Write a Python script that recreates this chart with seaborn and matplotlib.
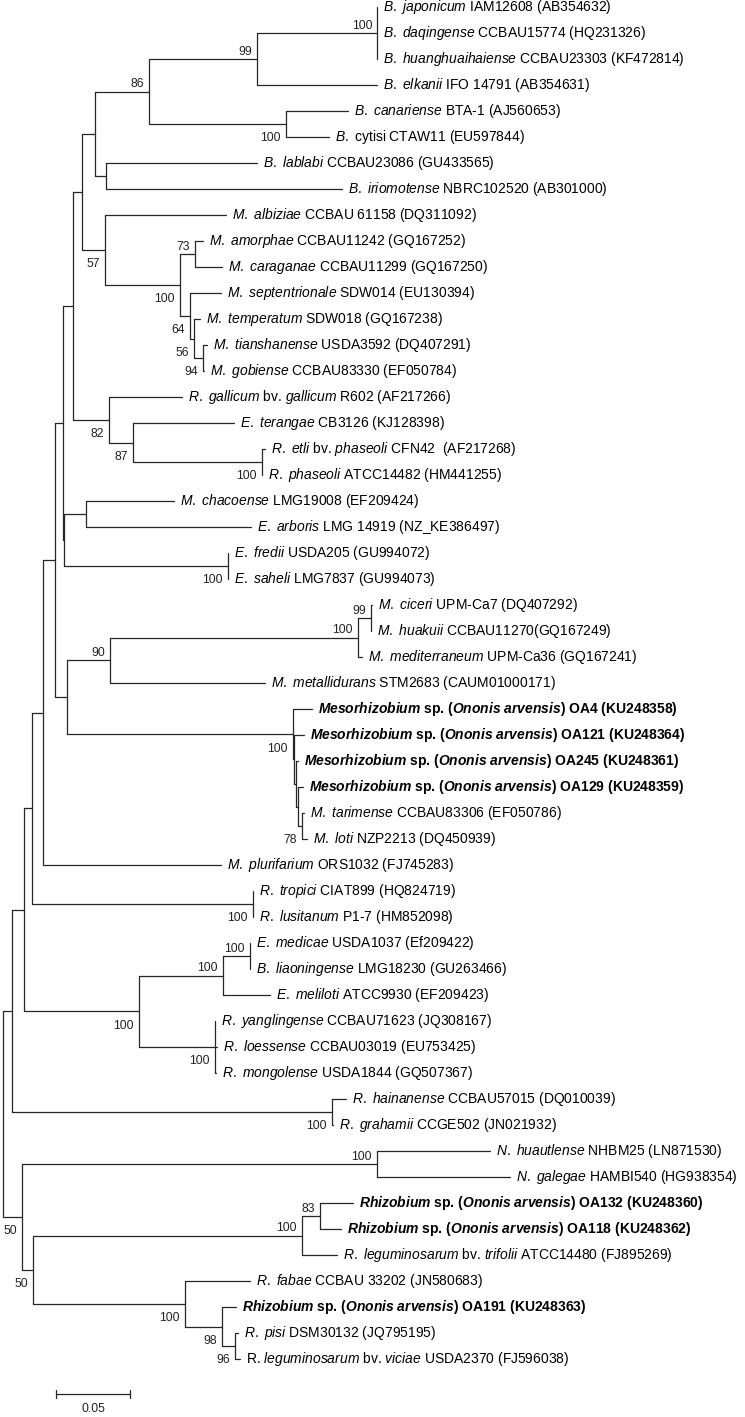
import pandas as pd
import seaborn as sns
import matplotlib.pyplot as plt

# leaf labels in tree order, *...* marks italic words
LABELS = [
    "*B. japonicum* IAM12608 (AB354632)",
    "*B. daqingense* CCBAU15774 (HQ231326)",
    "*B. huanghuaihaiense* CCBAU23303 (KF472814)",
    "*B. elkanii* IFO 14791 (AB354631)",
    "*B. canariense* BTA-1 (AJ560653)",
    "*B.* cytisi CTAW11 (EU597844)",
    "*B. lablabi* CCBAU23086 (GU433565)",
    "*B. iriomotense* NBRC102520 (AB301000)",
    "*M. albiziae* CCBAU 61158 (DQ311092)",
    "*M. amorphae* CCBAU11242 (GQ167252)",
    "*M. caraganae* CCBAU11299 (GQ167250)",
    "*M. septentrionale* SDW014 (EU130394)",
    "*M. temperatum* SDW018 (GQ167238)",
    "*M. tianshanense* USDA3592 (DQ407291)",
    "*M. gobiense* CCBAU83330 (EF050784)",
    "*R. gallicum* bv. *gallicum* R602 (AF217266)",
    "*E. terangae* CB3126 (KJ128398)",
    "*R. etli* bv. *phaseoli* CFN42  (AF217268)",
    "*R. phaseoli* ATCC14482 (HM441255)",
    "*M. chacoense* LMG19008 (EF209424)",
    "*E. arboris* LMG 14919 (NZ_KE386497)",
    "*E. fredii* USDA205 (GU994072)",
    "*E. saheli* LMG7837 (GU994073)",
    "*M. ciceri* UPM-Ca7 (DQ407292)",
    "*M. huakuii* CCBAU11270(GQ167249)",
    "*M. mediterraneum* UPM-Ca36 (GQ167241)",
    "*M. metallidurans* STM2683 (CAUM01000171)",
    "*Mesorhizobium* sp. (*Ononis arvensis*) OA4 (KU248358)",
    "*Mesorhizobium* sp. (*Ononis arvensis*) OA121 (KU248364)",
    "*Mesorhizobium* sp. (*Ononis arvensis*) OA245 (KU248361)",
    "*Mesorhizobium* sp. (*Ononis arvensis*) OA129 (KU248359)",
    "*M. tarimense* CCBAU83306 (EF050786)",
    "*M. loti* NZP2213 (DQ450939)",
    "*M. plurifarium* ORS1032 (FJ745283)",
    "*R. tropici* CIAT899 (HQ824719)",
    "*R. lusitanum* P1-7 (HM852098)",
    "*E. medicae* USDA1037 (Ef209422)",
    "*B. liaoningense* LMG18230 (GU263466)",
    "*E. meliloti* ATCC9930 (EF209423)",
    "*R. yanglingense* CCBAU71623 (JQ308167)",
    "*R. loessense* CCBAU03019 (EU753425)",
    "*R. mongolense* USDA1844 (GQ507367)",
    "*R. hainanense* CCBAU57015 (DQ010039)",
    "*R. grahamii* CCGE502 (JN021932)",
    "*N. huautlense* NHBM25 (LN871530)",
    "*N. galegae* HAMBI540 (HG938354)",
    "*Rhizobium* sp. (*Ononis arvensis*) OA132 (KU248360)",
    "*Rhizobium* sp. (*Ononis arvensis*) OA118 (KU248362)",
    "*R. leguminosarum* bv. *trifolii* ATCC14480 (FJ895269)",
    "*R. fabae* CCBAU 33202 (JN580683)",
    "*Rhizobium* sp. (*Ononis arvensis*) OA191 (KU248363)",
    "*R. pisi* DSM30132 (JQ795195)",
    "R. *leguminosarum* bv. *viciae* USDA2370 (FJ596038)",
]
# isolates from this study, drawn in bold
BOLD_LEAVES = [27, 28, 29, 30, 46, 47, 50]

# clades in newick, leaves are indices into LABELS,
# branch lengths in substitutions per site, bootstrap after ')'
BRADY = ("((((0:0,1:0,2:0)100:0.0811,3:0.0811)99:0.0730,"
         "(4:0.0419,5:0.0291)100:0.0926)86:0.0365,(6:0.1020,7:0.1595):0.0074)")
MESO1 = ("(8:0.0818,((9:0.0054,10:0.0182)73:0.0101,(11:0.0209,(12:0.0041,"
         "(13:0.0027,14:0.0007)94:0.0061)56:0.0027)64:0.0068)100:0.0507)57")
GALL = "(15:0.0493,(16:0.0682,(17:0.0020,18:0)100:0.0872)87:0.0162)82"
ENSI = "((19:0.0595,20:0.1115):0.0149,(21:0,22:0)100:0.1108)"
MESO2 = ("((((23:0.0007,24:0)99:0.0088,25:0.0027)100:0.1676,26:0.1047)90:0.0291,"
         "(27:0.0128,(28:0.0068,(29:0.0014,(30:0.0034,(31:0.0014,32:0.0034)78:0.0027)"
         ":0.0014):0.0014):0.0007)100:0.1527)")
TROP = "(34:0,35:0)100"
SINO = ("(((36:0,37:0)100:0.0182,38:0.0318)100:0.0568,"
        "(39:0,40:0.0014,41:0.0007)100:0.0514)100")
HAIN = "(42:0.0095,43:0.0007)100"
RHIZ = ("((44:0.0764,45:0.0899)100:0.2399,(((46:0.0223,47:0.0142)83:0.0122,"
        "48:0.0236)100:0.1818,(49:0.0439,(50:0.0095,(51:0.0020,52:0.0034)96:0.0088)98"
        ":0.0250)100:0.1027)50:0.0074)50")

TREE = (f"((((((((({BRADY}:0.0088,{MESO1}:0.0155):0.0061,{GALL}:0.0243):0.0068,"
        f"{ENSI}:0.0007):0.0054,{MESO2}:0.0081):0.0081,33:0.1203):0.0074,"
        f"{TROP}:0.1493):0.0054,{SINO}:0.0777):0.0081,{HAIN}:0.2162):0.0061,"
        f"{RHIZ}:0.0128);")

SCALE_LEN = 0.05

# page geometry (pixels)
W, H = 745, 1417
PX_PER_UNIT = 1480      # 0.05 substitutions = 74 px
X0_PX = 3
ROW0_PX, ROW_PX = 7, 26


def parse_newick(s):
    pos = 0

    def node():
        nonlocal pos
        children = []
        if s[pos] == '(':
            pos += 1
            while True:
                children.append(node())
                if s[pos] == ',':
                    pos += 1
                    continue
                pos += 1
                break
        start = pos
        while s[pos] not in ':,);':
            pos += 1
        name = s[start:pos]
        length = 0.0
        if s[pos] == ':':
            pos += 1
            start = pos
            while s[pos] not in ',);':
                pos += 1
            length = float(s[start:pos])
        return {'children': children, 'name': name, 'length': length}

    return node()


def layout(n, depth, leaves):
    n['x'] = depth + n['length']
    if n['children']:
        for c in n['children']:
            layout(c, n['x'], leaves)
        n['y'] = (n['children'][0]['y'] + n['children'][-1]['y']) / 2
    else:
        n['y'] = len(leaves)
        leaves.append(n)


def to_mathtext(label, bold):
    cmd = r'\mathbfit' if bold else r'\mathit'
    parts = label.split('*')
    out = []
    for k, p in enumerate(parts):
        if k % 2:
            out.append(' '.join(f'${cmd}{{{w}}}$' for w in p.split(' ')))
        else:
            out.append(p)
    return ''.join(out)


root = parse_newick(TREE)
leaves = []
layout(root, 0.0, leaves)

# collect the tree edges as line segments
rows = []
internals = []
seg = 0


def collect(n):
    global seg
    if not n['children']:
        return
    internals.append(n)
    kids = n['children']
    rows.append((seg, n['x'], kids[0]['y']))
    rows.append((seg, n['x'], kids[-1]['y']))
    seg += 1
    for k, c in enumerate(kids):
        c['upper'] = k == 0
        rows.append((seg, n['x'], c['y']))
        rows.append((seg, c['x'], c['y']))
        seg += 1
        collect(c)


collect(root)
edges = pd.DataFrame(rows, columns=['seg', 'x', 'y'])

sns.set_style('white')
plt.rcParams['font.family'] = ['Liberation Sans', 'DejaVu Sans']
plt.rcParams['mathtext.fontset'] = 'custom'
plt.rcParams['mathtext.rm'] = 'Liberation Sans'
plt.rcParams['mathtext.it'] = 'Liberation Sans:italic'
plt.rcParams['mathtext.bf'] = 'Liberation Sans:bold'
plt.rcParams['mathtext.bfit'] = 'Liberation Sans:bold:italic'

fig = plt.figure(figsize=(W / 100, H / 100), dpi=100)
ax = fig.add_axes([0, 0, 1, 1])

line_col = '#262626'
sns.lineplot(data=edges, x='x', y='y', units='seg', estimator=None, sort=False,
             color=line_col, linewidth=0.9, ax=ax, legend=False)

# leaf labels
for i, leaf in enumerate(leaves):
    idx = int(leaf['name'])
    bold = idx in BOLD_LEAVES
    ax.annotate(to_mathtext(LABELS[idx], bold), xy=(leaf['x'], leaf['y']),
                xytext=(4.4, 0), textcoords='offset points',
                ha='left', va='center', fontsize=10,
                fontweight='bold' if bold else 'normal', color='black')

# bootstrap values
for n in internals:
    if n is root or not n['name']:
        continue
    dy = 2.9 if n['upper'] else -6.0
    ax.annotate(n['name'], xy=(n['x'], n['y']), xytext=(-3.6, dy),
                textcoords='offset points', ha='right',
                va='baseline' if n['upper'] else 'top',
                fontsize=8.8, color='#222222')

# scale bar
sb_x0 = (56 - X0_PX) / PX_PER_UNIT
sb_y = (1394 - ROW0_PX) / ROW_PX
tick = 0.16
ax.plot([sb_x0, sb_x0 + SCALE_LEN], [sb_y, sb_y], color=line_col, lw=0.9)
for xx in (sb_x0, sb_x0 + SCALE_LEN):
    ax.plot([xx, xx], [sb_y - tick, sb_y + tick], color=line_col, lw=0.9)
ax.text(sb_x0 + SCALE_LEN / 2, sb_y + 0.35, f'{SCALE_LEN:.2f}', ha='center',
        va='top', fontsize=8.8, color='#222222')

ax.set_xlim(-X0_PX / PX_PER_UNIT, (W - X0_PX) / PX_PER_UNIT)
ax.set_ylim((H - ROW0_PX) / ROW_PX, -ROW0_PX / ROW_PX)
ax.axis('off')

fig.savefig('out.png', dpi=100)
